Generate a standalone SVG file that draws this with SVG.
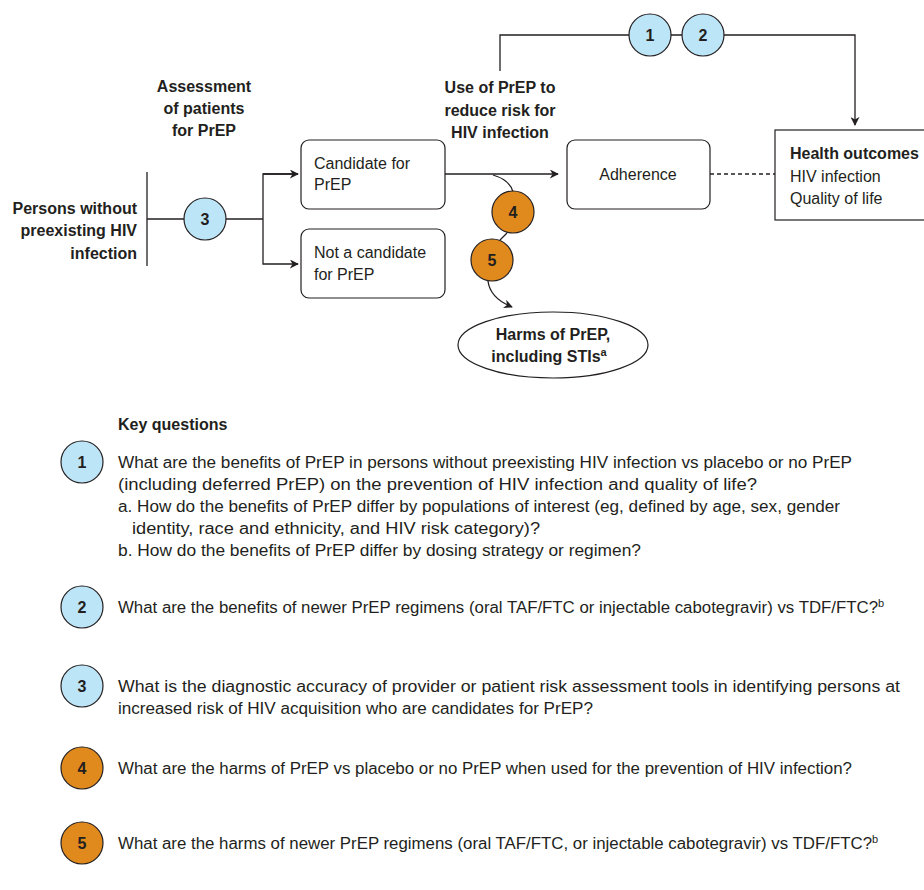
<svg xmlns="http://www.w3.org/2000/svg" width="924" height="890" viewBox="0 0 924 890">
<defs>
<marker id="ah" viewBox="0 0 10 10" refX="9" refY="5" markerWidth="9" markerHeight="9" markerUnits="userSpaceOnUse" orient="auto">
<path d="M0,0 L10,5 L0,10 L3,5 z" fill="#231f20"/>
</marker>
<style>
text{font-family:"Liberation Sans",Arial,sans-serif;font-size:16px;fill:#231f20}
.b{font-weight:bold}
.ln{fill:none;stroke:#231f20;stroke-width:1.3}
.box{fill:#fff;stroke:#231f20;stroke-width:1.2}
.blue{fill:#bde5f8;stroke:#231f20;stroke-width:1.2}
.org{fill:#e08a1e;stroke:#231f20;stroke-width:1.2}
.num{font-size:16px;font-weight:bold;text-anchor:middle}
.c{text-anchor:middle}
.e{text-anchor:end}
.sup{font-size:11px}
</style>
</defs>
<rect width="924" height="890" fill="#fff"/>

<g id="connectors">
<line class="ln" x1="147" y1="172" x2="147" y2="266"/>
<line class="ln" x1="147" y1="219" x2="263" y2="219"/>
<path class="ln" d="M298,174 H263 V264 H298" marker-end="url(#ah)"/>
<path class="ln" d="M263,174 H298" marker-end="url(#ah)"/>
<path class="ln" d="M445,174 H558" marker-end="url(#ah)"/>
<line class="ln" x1="710" y1="174" x2="775" y2="174" stroke-dasharray="4,3"/>
<path class="ln" d="M500,71 V35 H855 V125" marker-end="url(#ah)"/>
<path class="ln" d="M493,175 Q510,180 513,192"/>
<path class="ln" d="M507,233 L500,240"/>
<path class="ln" d="M488,281 Q490,298 512,307" marker-end="url(#ah)"/>
</g>

<g id="persons">
<text class="b e" x="137" y="214">Persons without</text>
<text class="b e" x="137" y="236">preexisting HIV</text>
<text class="b e" x="137" y="259">infection</text>
</g>
<g id="assessment-label">
<text class="b c" x="204" y="92">Assessment</text>
<text class="b c" x="204" y="114">of patients</text>
<text class="b c" x="204" y="136">for PrEP</text>
</g>
<g id="use-label">
<text class="b c" x="500" y="93">Use of PrEP to</text>
<text class="b c" x="500" y="116">reduce risk for</text>
<text class="b c" x="500" y="138">HIV infection</text>
</g>
<g id="kq3-node">
<circle class="blue" cx="205" cy="219" r="21"/>
<text class="num" x="205" y="225">3</text>
</g>
<g id="candidate">
<rect class="box" x="301" y="140" width="144" height="69" rx="8"/>
<text x="314" y="169">Candidate for</text>
<text x="314" y="190">PrEP</text>
</g>
<g id="not-candidate">
<rect class="box" x="301" y="229" width="144" height="69" rx="8"/>
<text x="314" y="258">Not a candidate</text>
<text x="314" y="280">for PrEP</text>
</g>
<g id="adherence">
<rect class="box" x="567" y="140" width="143" height="69" rx="8"/>
<text class="c" x="638" y="180">Adherence</text>
</g>
<g id="outcomes">
<rect class="box" x="775" y="130" width="152" height="90"/>
<text class="b" x="790" y="159">Health outcomes</text>
<text x="790" y="182">HIV infection</text>
<text x="790" y="204">Quality of life</text>
</g>
<g id="kq1-node">
<circle class="blue" cx="650" cy="35" r="21"/>
<text class="num" x="650" y="41">1</text>
</g>
<g id="kq2-node">
<circle class="blue" cx="703" cy="35" r="21"/>
<text class="num" x="703" y="41">2</text>
</g>
<g id="kq4-node">
<circle class="org" cx="513" cy="212" r="21"/>
<text class="num" x="513" y="218">4</text>
</g>
<g id="kq5-node">
<circle class="org" cx="492" cy="260" r="21"/>
<text class="num" x="492" y="266">5</text>
</g>
<g id="harms">
<ellipse class="box" cx="553" cy="345" rx="95" ry="33"/>
<text class="b c" x="553" y="340">Harms of PrEP,</text>
<text class="b c" x="549" y="362">including STIs<tspan class="sup" dy="-6">a</tspan></text>
</g>

<g id="key-questions">
<text x="118" y="430" style="font-weight:600">Key questions</text>
<circle class="blue" cx="82" cy="462" r="21"/>
<text class="num" x="82" y="468">1</text>
<text x="118" y="468" textLength="734" lengthAdjust="spacingAndGlyphs">What are the benefits of PrEP in persons without preexisting HIV infection vs placebo or no PrEP</text>
<text x="118" y="490" textLength="639" lengthAdjust="spacingAndGlyphs">(including deferred PrEP) on the prevention of HIV infection and quality of life?</text>
<text x="118" y="512" textLength="722" lengthAdjust="spacingAndGlyphs">a. How do the benefits of PrEP differ by populations of interest (eg, defined by age, sex, gender</text>
<text x="132" y="534" textLength="408" lengthAdjust="spacingAndGlyphs">identity, race and ethnicity, and HIV risk category)?</text>
<text x="118" y="556" textLength="523" lengthAdjust="spacingAndGlyphs">b. How do the benefits of PrEP differ by dosing strategy or regimen?</text>

<circle class="blue" cx="82" cy="607" r="21"/>
<text class="num" x="82" y="613">2</text>
<text x="118" y="613"><tspan textLength="760" lengthAdjust="spacingAndGlyphs">What are the benefits of newer PrEP regimens (oral TAF/FTC or injectable cabotegravir) vs TDF/FTC?</tspan><tspan class="sup" dy="-6">b</tspan></text>

<circle class="blue" cx="82" cy="686" r="21"/>
<text class="num" x="82" y="692">3</text>
<text x="118" y="692" textLength="782" lengthAdjust="spacingAndGlyphs">What is the diagnostic accuracy of provider or patient risk assessment tools in identifying persons at</text>
<text x="118" y="714" textLength="475" lengthAdjust="spacingAndGlyphs">increased risk of HIV acquisition who are candidates for PrEP?</text>

<circle class="org" cx="82" cy="768" r="21"/>
<text class="num" x="82" y="774">4</text>
<text x="118" y="774" textLength="734" lengthAdjust="spacingAndGlyphs">What are the harms of PrEP vs placebo or no PrEP when used for the prevention of HIV infection?</text>

<circle class="org" cx="82" cy="843" r="21"/>
<text class="num" x="82" y="849">5</text>
<text x="118" y="849"><tspan textLength="754" lengthAdjust="spacingAndGlyphs">What are the harms of newer PrEP regimens (oral TAF/FTC, or injectable cabotegravir) vs TDF/FTC?</tspan><tspan class="sup" dy="-6">b</tspan></text>
</g>
</svg>
